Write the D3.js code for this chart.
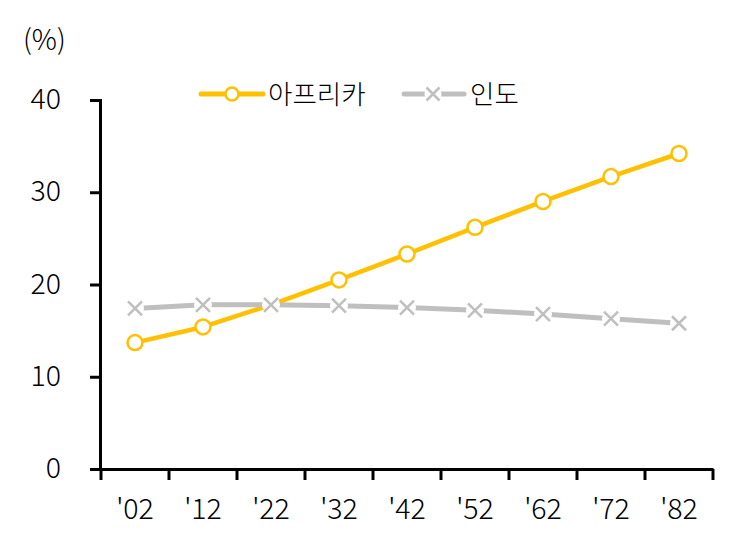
<!DOCTYPE html>
<html><head><meta charset="utf-8">
<script src="https://cdn.jsdelivr.net/npm/d3@7"></script>
<style>body{margin:0;background:#fff}text{font-family:"Noto Sans CJK KR","Noto Sans",sans-serif;font-weight:300;fill:#000}</style>
</head><body><svg id="c" width="744" height="545"></svg>
<script>
const categories = ["'02","'12","'22","'32","'42","'52","'62","'72","'82"];
const africa = [13.7, 15.4, 17.8, 20.5, 23.3, 26.2, 29.0, 31.7, 34.2];
const india  = [17.4, 17.8, 17.8, 17.7, 17.5, 17.2, 16.8, 16.3, 15.8];
const yTicks = [0, 10, 20, 30, 40];
const seriesNames = ["아프리카", "인도"];
const colors = ["#FFC000", "#BFBFBF"];

const svg = d3.select("#c");
const x = d3.scaleBand().domain(categories).range([101, 713]);
const y = d3.scaleLinear().domain([0, 40]).range([469, 100]);
const cx = d => x(d) + x.bandwidth()/2;

// axes
const yAxis = svg.append("g").attr("transform","translate(100,0)")
  .call(d3.axisLeft(y).tickValues(yTicks).tickSize(10).tickPadding(29));
yAxis.select(".domain").attr("stroke","#000").attr("stroke-width",3);
yAxis.selectAll(".tick line").attr("stroke","#000").attr("stroke-width",3);
yAxis.selectAll(".tick text").style("font-size","28.5px").attr("fill","#000").attr("dy","0.3em");

const xAxis = svg.append("g").attr("transform","translate(0,469)")
  .call(d3.axisBottom(x).tickSize(0).tickPadding(30));
xAxis.select(".domain").attr("stroke","#000").attr("stroke-width",3);
xAxis.selectAll(".tick text").style("font-size","28.5px").attr("fill","#000");
// tick marks at band boundaries
const bounds = categories.map(c => x(c)).concat([x(categories[categories.length-1]) + x.bandwidth()]);
svg.append("g").selectAll("line").data(bounds).join("line")
  .attr("x1", d=>d).attr("x2", d=>d).attr("y1", 469).attr("y2", 480)
  .attr("stroke","#000").attr("stroke-width",3);

svg.append("text").attr("x", 23).attr("y", 50).style("font-size","28px").text("(%)");

const line = d3.line().x((d,i)=>cx(categories[i])).y(d=>y(d));

// lines
svg.append("path").datum(africa).attr("d", line).attr("fill","none")
  .attr("stroke", colors[0]).attr("stroke-width", 4.5).attr("stroke-linejoin","round");
svg.append("path").datum(india).attr("d", line).attr("fill","none")
  .attr("stroke", colors[1]).attr("stroke-width", 5);

// markers
svg.append("g").selectAll("circle").data(africa).join("circle")
  .attr("cx",(d,i)=>cx(categories[i])).attr("cy",d=>y(d)).attr("r",7.5)
  .attr("fill","#fff").attr("stroke",colors[0]).attr("stroke-width",2.5);

function xMark(g, px, py, s){
  g.append("circle").attr("cx",px).attr("cy",py).attr("r",s+2).attr("fill","#fff");
  g.append("path").attr("d",`M${px-s},${py-s}L${px+s},${py+s}M${px-s},${py+s}L${px+s},${py-s}`)
    .attr("stroke",colors[1]).attr("stroke-width",2.5).attr("fill","none");
}
const gm = svg.append("g");
india.forEach((d,i)=>xMark(gm, cx(categories[i]), y(d), 7));

// legend
const lg = svg.append("g");
lg.append("line").attr("x1",201).attr("x2",263).attr("y1",94).attr("y2",94)
  .attr("stroke",colors[0]).attr("stroke-width",5).attr("stroke-linecap","round");
lg.append("circle").attr("cx",232).attr("cy",94).attr("r",6.5)
  .attr("fill","#fff").attr("stroke",colors[0]).attr("stroke-width",2.5);
lg.append("text").attr("x",268).attr("y",104).style("font-size","26.5px").text(seriesNames[0]);
lg.append("line").attr("x1",404).attr("x2",464).attr("y1",94).attr("y2",94)
  .attr("stroke",colors[1]).attr("stroke-width",5).attr("stroke-linecap","round");
xMark(lg, 433, 94, 6.5);
lg.append("text").attr("x",470).attr("y",104).style("font-size","26.5px").text(seriesNames[1]);
</script></body></html>
